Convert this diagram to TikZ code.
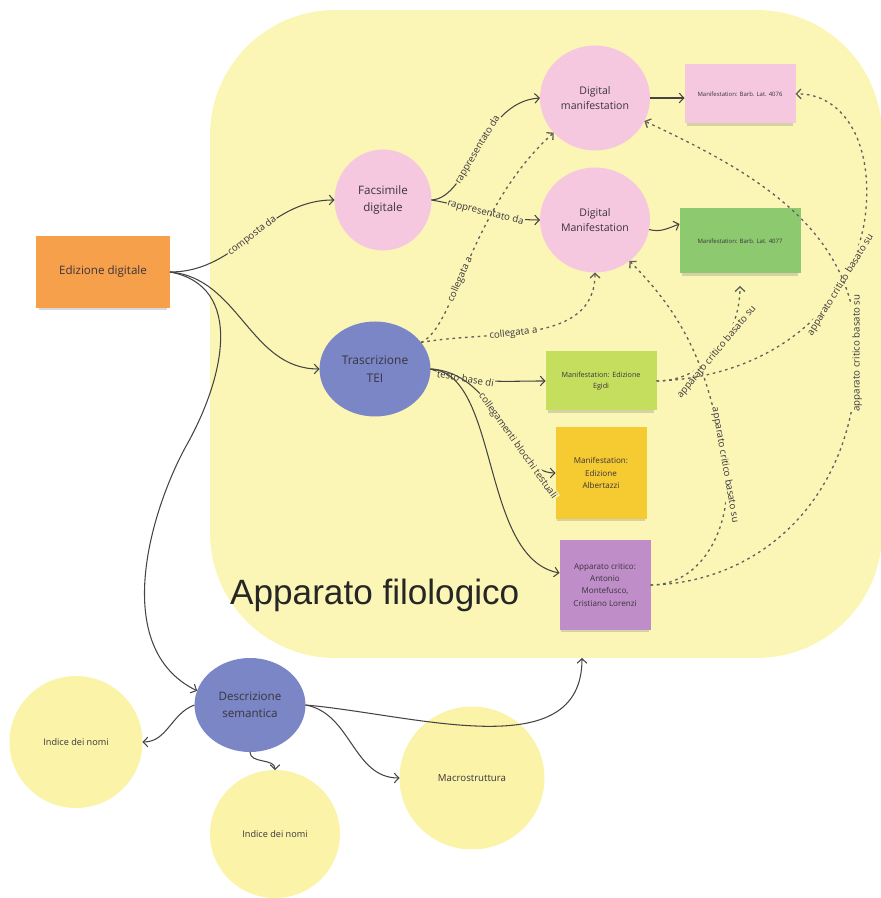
\documentclass[tikz,border=0pt]{standalone}
\usepackage{fontspec}
\setmainfont{Open Sans}
\newfontfamily\titlefont{Liberation Sans}
\usetikzlibrary{arrows.meta,shapes.geometric,shadows}

\definecolor{bgyellow}{RGB}{251,246,182}
\definecolor{bubyellow}{RGB}{250,243,168}
\definecolor{pinkb}{RGB}{246,200,223}
\definecolor{orangeb}{RGB}{247,160,75}
\definecolor{blueb}{RGB}{122,134,198}
\definecolor{greenb}{RGB}{141,201,111}
\definecolor{limeb}{RGB}{198,222,94}
\definecolor{goldb}{RGB}{246,202,49}
\definecolor{purpleb}{RGB}{191,141,200}
\definecolor{txt}{RGB}{58,52,60}
\definecolor{lnk}{RGB}{70,68,66}

\tikzset{
	note/.style={rectangle, inner sep=2pt, outer sep=0pt, align=center, text=txt,
		drop shadow={shadow xshift=0pt, shadow yshift=-2pt, shadow scale=0.96, opacity=0.3}},
	bubble/.style={ellipse, inner sep=1pt, outer sep=0pt, align=center, text=txt},
	link/.style={draw=lnk, line width=0.6pt, -{Straight Barb[length=2.6pt, width=5.5pt]}},
	dlink/.style={link, draw=lnk!85, line width=0.75pt, dash pattern=on 1.5pt off 2.1pt},
	lbl/.style={fill=bgyellow, inner sep=0.5pt, outer sep=0pt, text=txt, font=\fontsize{5.5}{6.5}\selectfont}
}

\begin{document}
\begin{tikzpicture}[x=0.02cm, y=0.02cm]
	%%%%% START %%%%%
	\useasboundingbox (0,0) rectangle (880,898);
	
	% area gialla
	\node (filologico) [fill=bgyellow, rounded corners=2.5cm, inner sep=0pt, outer sep=0pt,
		minimum width=13.44cm, minimum height=12.96cm] at (546,564) {};
	\node (titolo) [anchor=base west, text=black!85, font=\titlefont\fontsize{20}{24}\selectfont] at (224,293) {Apparato filologico};
	\path (filologico.south) ++(36,0) coordinate (fondo);
	
	\node (edizione) [note, fill=orangeb, minimum width=2.68cm, minimum height=1.44cm, font=\fontsize{6.6}{9.6}\selectfont] at (103,626) {Edizione digitale};
	
	\node (facsimile) [bubble, fill=pinkb, minimum width=1.94cm, minimum height=2.02cm, font=\fontsize{6.6}{10}\selectfont] at (383,698) {Facsimile\\digitale};
	\node (dm1) [bubble, fill=pinkb, minimum width=2.2cm, minimum height=2.1cm, font=\fontsize{6}{8.6}\selectfont] at (595,800) {Digital\\manifestation};
	\node (dm2) [bubble, fill=pinkb, minimum width=2.2cm, minimum height=2.1cm, font=\fontsize{6}{8.6}\selectfont] at (595,678) {Digital\\Manifestation};
	
	\node (barb76) [note, fill=pinkb, minimum width=2.22cm, minimum height=1.18cm, font=\fontsize{3.4}{4.5}\selectfont] at (740,804) {Manifestation: Barb. Lat. 4076};
	\node (barb77) [note, fill=greenb, minimum width=2.42cm, minimum height=1.3cm, font=\fontsize{3.4}{4.5}\selectfont] at (740,657) {Manifestation: Barb. Lat. 4077};
	
	\node (tei) [bubble, fill=blueb, minimum width=2.22cm, minimum height=1.9cm, font=\fontsize{6.8}{10}\selectfont] at (375,529) {Trascrizione\\TEI};
	
	\node (egidi) [note, fill=limeb, minimum width=2.22cm, minimum height=1.18cm, font=\fontsize{4.1}{6.4}\selectfont] at (601,517) {Manifestation: Edizione\\Egidi};
	\node (albertazzi) [note, fill=goldb, minimum width=1.82cm, minimum height=1.84cm, font=\fontsize{4.6}{7}\selectfont] at (601,425) {Manifestation:\\Edizione\\Albertazzi};
	\node (apparato) [note, fill=purpleb, minimum width=1.82cm, minimum height=1.82cm, font=\fontsize{4.6}{6.9}\selectfont] at (605,313) {Apparato critico:\\Antonio\\Montefusco,\\Cristiano Lorenzi};
	
	\node (descrizione) [bubble, fill=blueb, minimum width=2.22cm, minimum height=1.88cm, font=\fontsize{6.6}{9.8}\selectfont] at (250,193) {Descrizione\\semantica};
	\node (indice1) [bubble, fill=bubyellow, minimum width=2.66cm, minimum height=2.64cm, font=\fontsize{5.2}{6}\selectfont] at (76,156) {Indice dei nomi};
	\node (indice2) [bubble, fill=bubyellow, minimum width=2.6cm, minimum height=2.56cm, font=\fontsize{5.2}{6}\selectfont] at (275,64) {Indice dei nomi};
	\node (macro) [bubble, fill=bubyellow, minimum width=2.9cm, minimum height=2.86cm, font=\fontsize{5.5}{6}\selectfont] at (472,120) {Macrostruttura};
	
	% collegamenti pieni
	\draw[link] (edizione.east) to[out=0, in=180] node[lbl, sloped] {composta da} (facsimile.west);
	\draw[link] (edizione.east) to[out=-5, in=180] (tei.west);
	\draw[link] (edizione.east) .. controls (245,612) and (225,520) .. (185,450)
		.. controls (150,385) and (110,250) .. (descrizione.165);
	
	\draw[link] (facsimile.east) .. controls (470,700) and (480,796) .. (dm1.west) node[lbl, sloped, pos=0.5] {rappresentato da};
	\draw[link] (facsimile.east) to[out=-10, in=180] node[lbl, sloped, pos=0.5] {rappresentato da} (dm2.west);
	
	\draw[link] (dm1.east) -- (dm1.east -| barb76.west);
	\draw[link] (dm2.-10) to[out=-15, in=200] ([yshift=0.34cm]barb77.west);
	
	\draw[link] (tei.east) to[out=-20, in=180] node[lbl, sloped, pos=0.3] {testo base di} (egidi.west);
	\draw[link] (tei.east) .. controls (500,525) and (510,425) .. (albertazzi.west) node[lbl, sloped, pos=0.66] {collegamenti blocchi testuali};
	\draw[link] (tei.east) .. controls (500,525) and (480,340) .. ([yshift=0.24cm]apparato.west);
	
	% collegamenti tratteggiati
	\draw[dlink] (tei.30) .. controls (455,570) and (470,690) .. (dm1.220) node[lbl, sloped, pos=0.42] {collegata a};
	\draw[dlink] (tei.30) to[out=10, in=-90] node[lbl, sloped, pos=0.4] {collegata a} (dm2.south);
	
	\draw[dlink] (egidi.east) to[out=0, in=-90] node[lbl, sloped] {apparato critico basato su} ([yshift=-0.25cm]barb77.south);
	\draw[dlink] (egidi.east) .. controls (760,520) and (850,580) .. (865,680) node[lbl, sloped, pos=0.75] {apparato critico basato su}
		.. controls (875,760) and (840,805) .. (barb76.east);
	
	\draw[dlink] (apparato.east) to[out=0, in=-80] (725,433) node[lbl, rotate=-80] {apparato critico basato su}
		to[out=100, in=-45] (dm2.-50);
	\draw[dlink] (apparato.east) .. controls (760,315) and (857,400) .. (857,545) node[lbl, rotate=90] {apparato critico basato su}
		to[out=90, in=-25] (dm1.-25);
	
	% descrizione semantica
	\draw[link] (descrizione.west) to[out=200, in=0] (indice1.east);
	\draw[link] (descrizione.south) to[out=-90, in=90] (indice2.north);
	\draw[link] (descrizione.east) to[out=-10, in=180] (macro.west);
	\draw[link] (descrizione.east) to[out=-5, in=-90] (fondo);
	
	%%%%% END %%%%%
\end{tikzpicture}
\end{document}
